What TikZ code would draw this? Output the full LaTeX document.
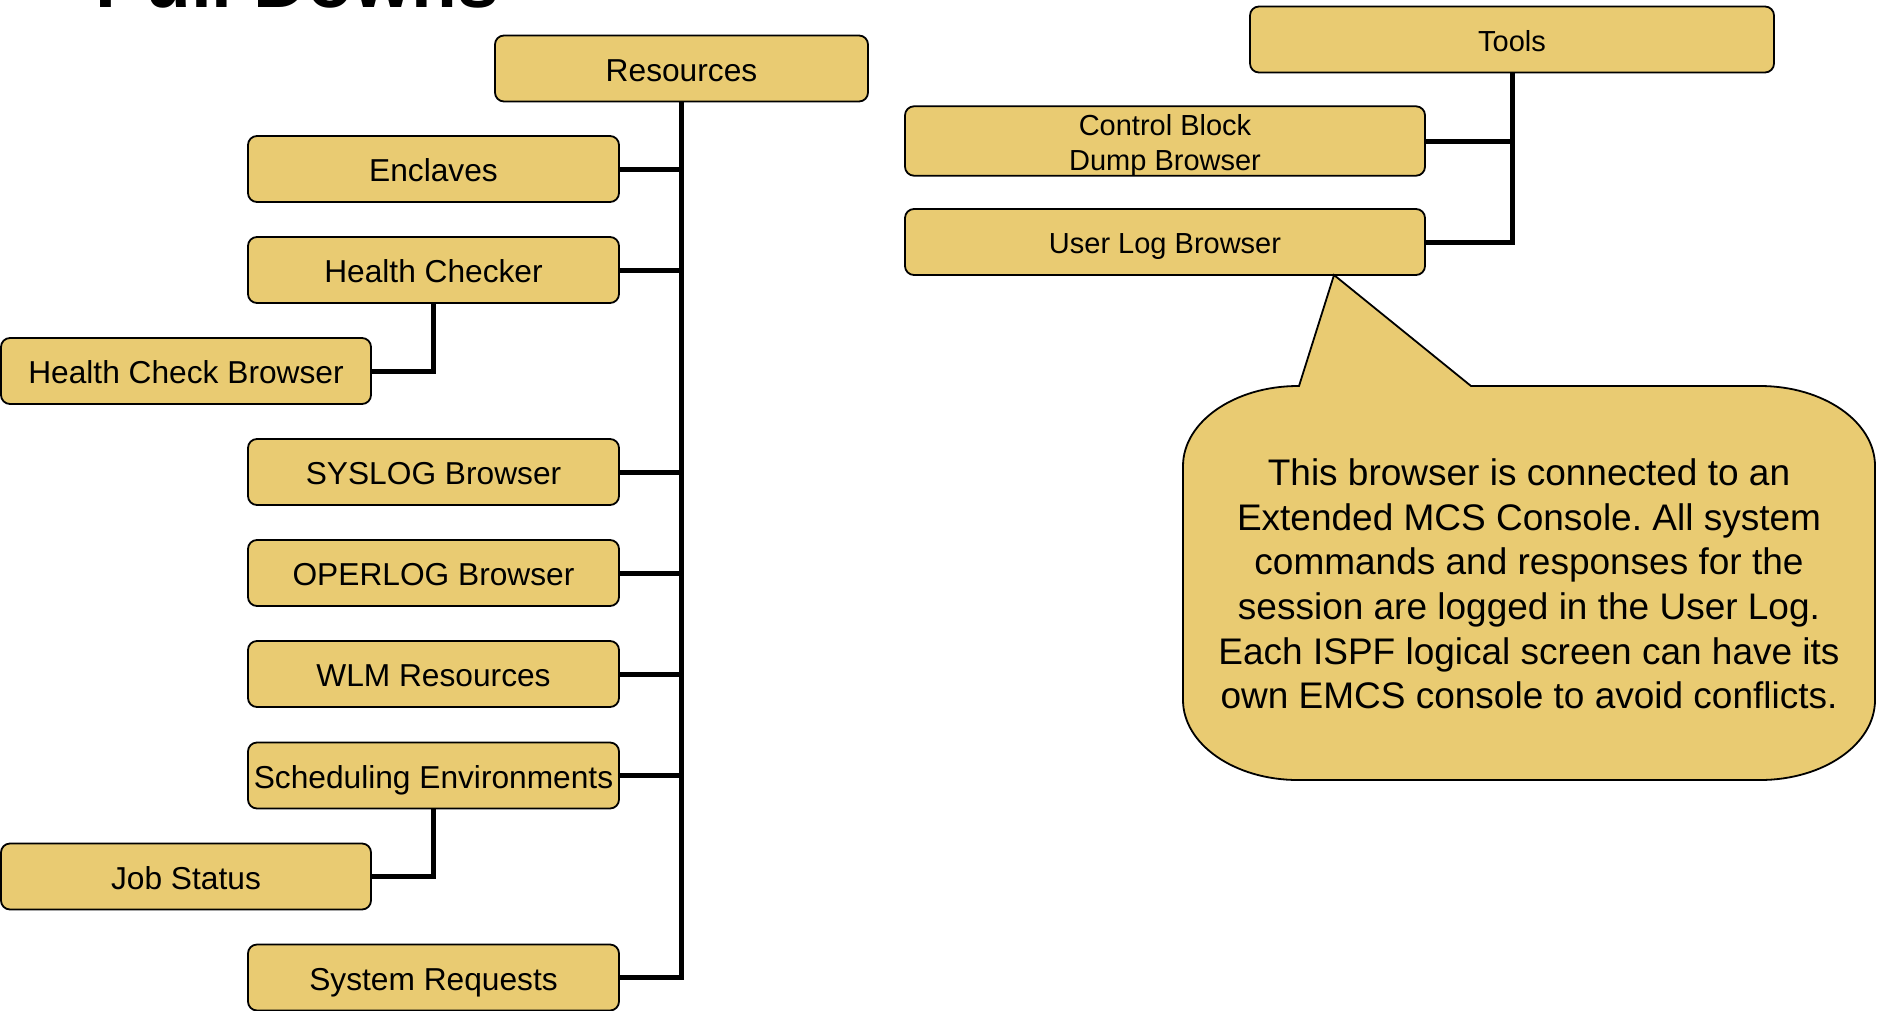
\documentclass[tikz,border=0pt]{standalone}
\usepackage{fontspec}
\setmainfont{Liberation Sans}
\definecolor{boxfill}{RGB}{233,203,114}
\begin{document}
\frenchspacing
\begin{tikzpicture}[x=1pt,y=-1pt,
  box/.style={draw=black, fill=boxfill, rounded corners=9pt, line width=1.8pt,
    minimum width=371pt, minimum height=66pt, inner sep=0pt, align=center,
    text height=28pt, text depth=2.4pt,
    font=\fontsize{31.7}{38}\selectfont},
  rbox/.style={box, minimum width=520pt, text height=25.6pt, text depth=2.2pt,
    font=\fontsize{29}{34.7}\selectfont},
  conn/.style={line width=5pt, line join=miter},
  callout/.style={draw=black, fill=boxfill, line width=1.8pt, line join=miter}]
\useasboundingbox (0,0) rectangle (1878,1010);

% partially visible title
\node[anchor=base west, inner sep=0pt, font=\bfseries\fontsize{75}{80}\selectfont] (title) at (95,7) {Pull Downs};

% left tree
\node[box, minimum width=373pt] (res) at (681.5,68.5) {Resources};
\node[box] (encl) at (433.5,169) {Enclaves};
\node[box] (hc) at (433.5,270) {Health Checker};
\node[box, minimum width=370pt] (hcb) at (186,371) {Health Check Browser};
\node[box] (sys) at (433.5,472) {SYSLOG Browser};
\node[box] (oper) at (433.5,573) {OPERLOG Browser};
\node[box] (wlm) at (433.5,674) {WLM Resources};
\node[box] (sched) at (433.5,775.5) {Scheduling Environments};
\node[box, minimum width=370pt] (job) at (186,876.5) {Job Status};
\node[box] (sreq) at (433.5,977.5) {System Requests};

\draw[conn] (res.south) |- (sreq.east);
\foreach \n in {encl,hc,sys,oper,wlm,sched}
  \draw[conn] (\n.east) -- (\n.east -| res.south);
\draw[conn] (hc.south) |- (hcb.east);
\draw[conn] (sched.south) |- (job.east);

% right tree
\node[rbox, minimum width=524pt] (tools) at (1512,39.5) {Tools};
\node[rbox, text height=, text depth=] (cbd) at (1165,141)
  {\raisebox{-5.4pt}[\height][\depth]{\begin{tabular}{@{}c@{}}Control Block\\Dump Browser\end{tabular}}};
\node[rbox] (ulb) at (1165,242) {User Log Browser};

\draw[conn] (tools.south) |- (ulb.east);
\draw[conn] (cbd.east) -- (cbd.east -| tools.south);

% callout
\coordinate (tip) at (1334,275);
\draw[callout] (1299,386) -- (tip) -- (1471,386) -- (1760,386)
  .. controls (1823.5,386) and (1875,421.8) .. (1875,466) -- (1875,700)
  .. controls (1875,744.2) and (1823.5,780) .. (1760,780) -- (1298,780)
  .. controls (1234.5,780) and (1183,744.2) .. (1183,700) -- (1183,466)
  .. controls (1183,421.8) and (1234.5,386) .. (1298,386) -- cycle;
\node[align=center, inner sep=0pt, font=\fontsize{37}{44.7}\selectfont] (note) at (1529,584)
  {This browser is connected to an\\Extended MCS Console. All system\\commands and responses for the\\session are logged in the User Log.\\Each ISPF logical screen can have its\\own EMCS console to avoid conflicts.};
\end{tikzpicture}
\end{document}
